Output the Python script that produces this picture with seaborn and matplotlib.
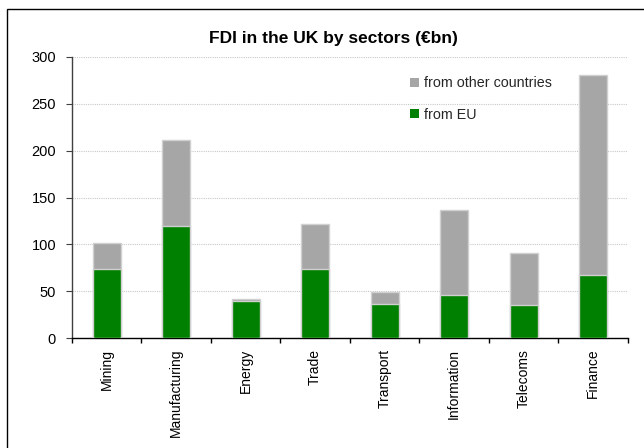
import matplotlib
matplotlib.use("Agg")
import matplotlib.pyplot as plt
import seaborn as sns
import pandas as pd
import numpy as np
from matplotlib.patches import Patch, Rectangle

categories = ["Mining", "Manufacturing", "Energy", "Trade", "Transport",
              "Information", "Telecoms", "Finance"]
from_eu = [74, 120, 40, 74, 37, 46.5, 35, 67]
from_other = [27, 91, 1.5, 47.5, 12.3, 90, 56, 213]
y_ticks = [0, 50, 100, 150, 200, 250, 300]
title = "FDI in the UK by sectors (€bn)"

sns.set_theme(style="white")
plt.rcParams["font.family"] = ["Liberation Sans", "DejaVu Sans"]

df = pd.DataFrame({"sector": categories, "eu": from_eu, "other": from_other})
df["total"] = df["eu"] + df["other"]

GREEN = "#008000"
GREY = "#A6A6A6"
EDGE = "#D0D0D0"

fig = plt.figure(figsize=(6.44, 4.48), dpi=100)
ax = fig.add_axes([0.1118, 0.2449, 0.975 - 0.1118, 0.8734 - 0.2449])

sns.barplot(data=df, x="sector", y="total", color=GREY, width=0.4,
            edgecolor=EDGE, linewidth=1, saturation=1, ax=ax, zorder=2)
sns.barplot(data=df, x="sector", y="eu", color=GREEN, width=0.4,
            edgecolor=EDGE, linewidth=1, saturation=1, ax=ax, zorder=3)

ax.set_xlim(-0.5, len(categories) - 0.5)
ax.set_ylim(0, 300)
ax.set_yticks(y_ticks)
ax.set_xlabel("")
ax.set_ylabel("")

ax.yaxis.grid(True, color="#C8C8C8", linestyle=(0, (1, 1)), linewidth=0.8, zorder=0)
ax.set_axisbelow(True)

ax.set_xticks(range(len(categories)))
ax.set_xticklabels(categories, rotation=90, fontsize=10)
ax.set_xticks(np.arange(-0.5, len(categories), 1.0), minor=True)
ax.tick_params(axis="x", which="major", length=0, pad=7.5, colors="black")
ax.tick_params(axis="x", which="minor", length=3.8, width=1, color="black", direction="out", bottom=True)
ax.tick_params(axis="y", which="major", length=4, width=0.8, color="#404040",
               direction="out", left=True, pad=7.5, labelsize=10.5, labelcolor="black")

for s in ["top", "right"]:
    ax.spines[s].set_visible(False)
ax.spines["left"].set_color("#404040")
ax.spines["left"].set_linewidth(1)
ax.spines["bottom"].set_color("black")
ax.spines["bottom"].set_linewidth(1)

handles = [Patch(facecolor=GREY, edgecolor="none", label="from other countries"),
           Patch(facecolor=GREEN, edgecolor="none", label="from EU")]
ax.legend(handles=handles, loc="upper left", bbox_to_anchor=(0.608, 0.93),
          frameon=False, handlelength=0.65, handleheight=0.65, handletextpad=0.3,
          labelspacing=1.2, borderpad=0, borderaxespad=0, fontsize=10.3)

fig.text(0.517, 0.915, title, ha="center", va="center", fontsize=12.5,
         fontweight="bold", color="black")

fig.patches.append(Rectangle((7 / 644, -0.1), 1.2, 1 - 9.3 / 448 + 0.1,
                             transform=fig.transFigure, fill=False,
                             edgecolor="black", linewidth=1, zorder=10))

fig.savefig("out.png", dpi=100)
